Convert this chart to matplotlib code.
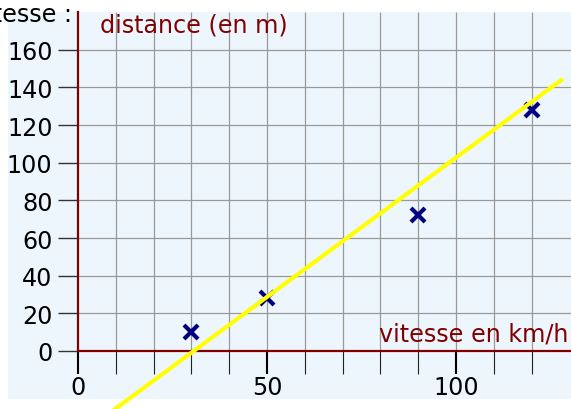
import matplotlib
matplotlib.use('Agg')
import matplotlib.pyplot as plt
from matplotlib.patches import Rectangle

plt.rcParams['font.family'] = 'DejaVu Sans'

# données : vitesse (km/h) et distance d'arrêt (m)
vitesse = [30, 50, 90, 120]
distance = [10, 28, 72, 128]

# droite tracée sur le graphique
droite_pente = 1.48
droite_origine = -45.3
droite_x = [0, 128.3]

x_major = [0, 50, 100]
x_minor = list(range(0, 130, 10))
y_ticks = list(range(0, 161, 20))

ROUGE = '#800000'
FOND = '#eef6fd'
TAILLE = 17.2

# mise en page en pixels (figure 571 x 410)
W, H = 571, 410
X0, SX = 78, 3.78     # pixel de x=0, pixels par unite
Y0, SY = 352, 1.883   # pixel de y=0, pixels par unite

fig = plt.figure(figsize=(W / 100, H / 100), dpi=100)
ax = fig.add_axes([0, 0, 1, 1])
xmin, xmax = -X0 / SX, (W - X0) / SX
ymin, ymax = -(H - Y0) / SY, Y0 / SY
ax.set_xlim(xmin, xmax)
ax.set_ylim(ymin, ymax)

# fond bleu clair
ax.add_patch(Rectangle(((8 - X0) / SX, (Y0 - 400) / SY),
                       (W - 8) / SX, (400 - 13) / SY,
                       facecolor=FOND, edgecolor='none', zorder=0))
y_top = (Y0 - 13) / SY

# quadrillage
ax.vlines(x_minor[1:], 0, y_top, color='#999999', lw=0.9, zorder=1)
ax.hlines(y_ticks[1:], 0, xmax, color='#999999', lw=0.9, zorder=1)

# axes
for s in ['top', 'right']:
    ax.spines[s].set_visible(False)
ax.spines['left'].set_position(('data', 0))
ax.spines['bottom'].set_position(('data', 0))
ax.spines['left'].set_bounds(0, y_top)
ax.spines['bottom'].set_bounds(0, xmax)
for s in ['left', 'bottom']:
    ax.spines[s].set_color(ROUGE)
    ax.spines[s].set_linewidth(1.6)

ax.set_xticks(x_major)
ax.set_xticks(x_minor, minor=True)
ax.set_yticks(y_ticks)
ax.tick_params(axis='x', which='major', length=16.5, width=1.5, color='black',
               labelsize=TAILLE, pad=1)
ax.tick_params(axis='x', which='minor', length=16.5, width=0.8, color='#222222')
ax.tick_params(axis='y', length=14.4, width=1.0, color='#333333',
               labelsize=TAILLE, pad=4)

# points et droite
ax.plot(vitesse, distance, ls='none', marker='x', ms=10, mew=3,
        color='#000080', zorder=3)
ax.plot(droite_x, [droite_pente * x + droite_origine for x in droite_x],
        color='yellow', lw=3, zorder=4, clip_on=False, solid_capstyle='butt')

# textes
ax.text((100 - X0) / SX, (Y0 - 33) / SY, 'distance (en m)', color=ROUGE,
        fontsize=TAILLE, va='baseline')
ax.text((568 - X0) / SX, (Y0 - 341.5) / SY, 'vitesse en km/h', color=ROUGE,
        fontsize=TAILLE, ha='right', va='baseline')
fig.text(72 / W, 1 - 22 / H, 'vitesse :', fontsize=TAILLE, ha='right',
         va='baseline')

fig.savefig('out.png', dpi=100)
